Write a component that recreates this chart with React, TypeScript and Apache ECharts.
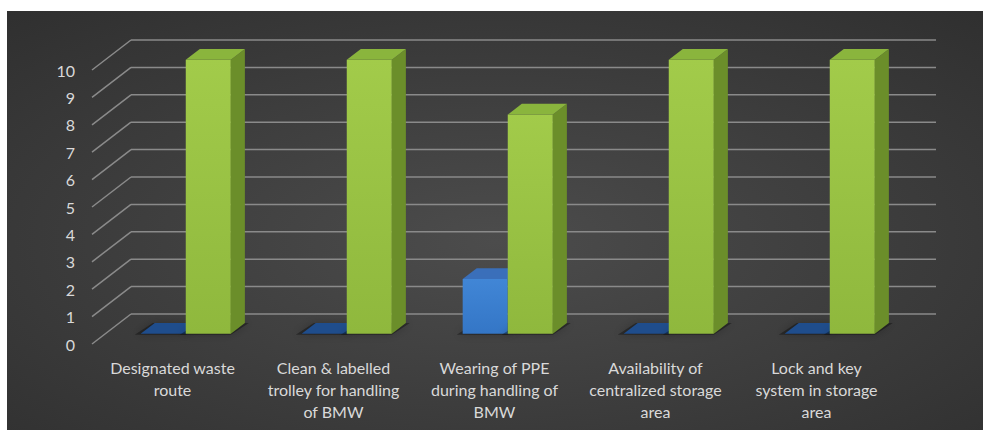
import React, { useEffect, useRef } from "react";
import * as echarts from "echarts";

const categories = [
  "Designated waste\nroute",
  "Clean & labelled\ntrolley for handling\nof BMW",
  "Wearing of PPE\nduring handling of\nBMW",
  "Availability of\ncentralized storage\narea",
  "Lock and key\nsystem in storage\narea",
];
const blueValues = [0, 0, 2, 0, 0];
const greenValues = [10, 10, 8, 10, 10];
const yTicks = [0, 1, 2, 3, 4, 5, 6, 7, 8, 9, 10];

// 3D depth vector (pixels) and bar placement in depth
const DX = 39;
const DY = -30;
const F0 = 0.34;
const F1 = 0.7;
const BAR_RATIO = 0.28;

const BLUE = {
  front: ["#4186d6", "#3476c6"],
  side: "#2a5ea4",
  top: "#3a6fba",
  zero: "#1f4d8c",
};
const GREEN = {
  front: ["#a2cb4a", "#8fb83d"],
  side: "#6b8e2a",
  top: "#8ab53d",
  zero: "#5f7f25",
};

function barRenderer(colors: any, leftSide: boolean) {
  return (params: any, api: any) => {
    const ci = api.value(0);
    const v = api.value(1);
    const band = api.size([1, 0])[0];
    const w = band * BAR_RATIO;
    const base = api.coord([ci, 0]);
    const topP = api.coord([ci, v]);
    const xL = leftSide ? base[0] - w : base[0];
    const xR = xL + w;
    const yT = topP[1];
    const yB = base[1];
    const fx0 = xL + F0 * DX, fx1 = xR + F0 * DX;
    const fyT = yT + F0 * DY, fyB = yB + F0 * DY;
    const bx0 = xL + F1 * DX, bx1 = xR + F1 * DX;
    const byT = yT + F1 * DY, byB = yB + F1 * DY;
    const children: any[] = [];
    // floor shadow
    children.push({
      type: "polygon",
      shape: {
        points: [
          [fx0 - 6, fyB + 1],
          [fx1, fyB + 1],
          [bx1 + 4, byB],
          [bx0 - 2, byB],
        ],
      },
      style: {
        fill: "rgba(0,0,0,0.35)",
        shadowBlur: 8,
        shadowColor: "rgba(0,0,0,0.6)",
      },
    });
    if (v <= 0) {
      children.push({
        type: "polygon",
        shape: { points: [[fx0, fyB], [fx1, fyB], [bx1, byB], [bx0, byB]] },
        style: { fill: colors.zero },
      });
      return { type: "group", children };
    }
    children.push({
      type: "rect",
      shape: { x: fx0, y: fyT, width: fx1 - fx0, height: fyB - fyT },
      style: {
        fill: new echarts.graphic.LinearGradient(0, 0, 0, 1, [
          { offset: 0, color: colors.front[0] },
          { offset: 1, color: colors.front[1] },
        ]),
      },
    });
    children.push({
      type: "polygon",
      shape: { points: [[fx1, fyT], [bx1, byT], [bx1, byB], [fx1, fyB]] },
      style: { fill: colors.side },
    });
    children.push({
      type: "polygon",
      shape: { points: [[fx0, fyT], [fx1, fyT], [bx1, byT], [bx0, byT]] },
      style: { fill: colors.top },
    });
    return { type: "group", children };
  };
}

function gridRenderer(params: any, api: any) {
  const cs = params.coordSys;
  const v = api.value(1);
  const y = api.coord([0, v])[1];
  const stroke = { stroke: "#8a8a8a", lineWidth: 1.5 };
  return {
    type: "group",
    children: [
      {
        type: "line",
        shape: { x1: cs.x, y1: y, x2: cs.x + DX, y2: y + DY },
        style: stroke,
      },
      {
        type: "line",
        shape: {
          x1: cs.x + DX,
          y1: y + DY,
          x2: cs.x + cs.width + DX,
          y2: y + DY,
        },
        style: stroke,
      },
    ],
  };
}

export default function App() {
  const ref = useRef<HTMLDivElement>(null);
  useEffect(() => {
    if (!ref.current) return;
    const chart = echarts.init(ref.current, null, { renderer: "svg" });
    const font = "Lato, 'Open Sans', sans-serif";
    chart.setOption({
      animation: false,
      backgroundColor: {
        type: "radial",
        x: 0.5,
        y: 0.55,
        r: 1.25,
        colorStops: [
          { offset: 0, color: "#4c4c4c" },
          { offset: 1, color: "#1c1c1c" },
        ],
      },
      grid: { left: 85, right: 86, top: 59, bottom: 86 },
      xAxis: {
        type: "category",
        data: categories,
        axisLine: { show: false },
        axisTick: { show: false },
        splitLine: { show: false },
        axisLabel: {
          interval: 0,
          margin: 12,
          color: "#d9d9d9",
          fontFamily: font,
          fontSize: 16,
          lineHeight: 22,
          verticalAlign: "top",
        },
      },
      yAxis: {
        type: "value",
        min: 0,
        max: 10,
        interval: 1,
        axisLine: { show: false },
        axisTick: { show: false },
        splitLine: { show: false },
        axisLabel: {
          margin: 17,
          color: "#d9d9d9",
          fontFamily: font,
          fontSize: 16,
        },
      },
      series: [
        {
          type: "custom",
          name: "grid",
          renderItem: gridRenderer,
          data: yTicks.map((t) => [0, t]),
          encode: { x: 0, y: 1 },
          clip: false,
          silent: true,
          z: 1,
        },
        {
          type: "custom",
          name: "Blue",
          renderItem: barRenderer(BLUE, true),
          data: blueValues.map((v, i) => [i, v]),
          encode: { x: 0, y: 1 },
          clip: false,
          z: 2,
        },
        {
          type: "custom",
          name: "Green",
          renderItem: barRenderer(GREEN, false),
          data: greenValues.map((v, i) => [i, v]),
          encode: { x: 0, y: 1 },
          clip: false,
          z: 3,
        },
      ],
    });
    return () => chart.dispose();
  }, []);
  return (
    <div
      ref={ref}
      style={{ position: "absolute", left: 7, top: 11, width: 976, height: 419 }}
    />
  );
}
